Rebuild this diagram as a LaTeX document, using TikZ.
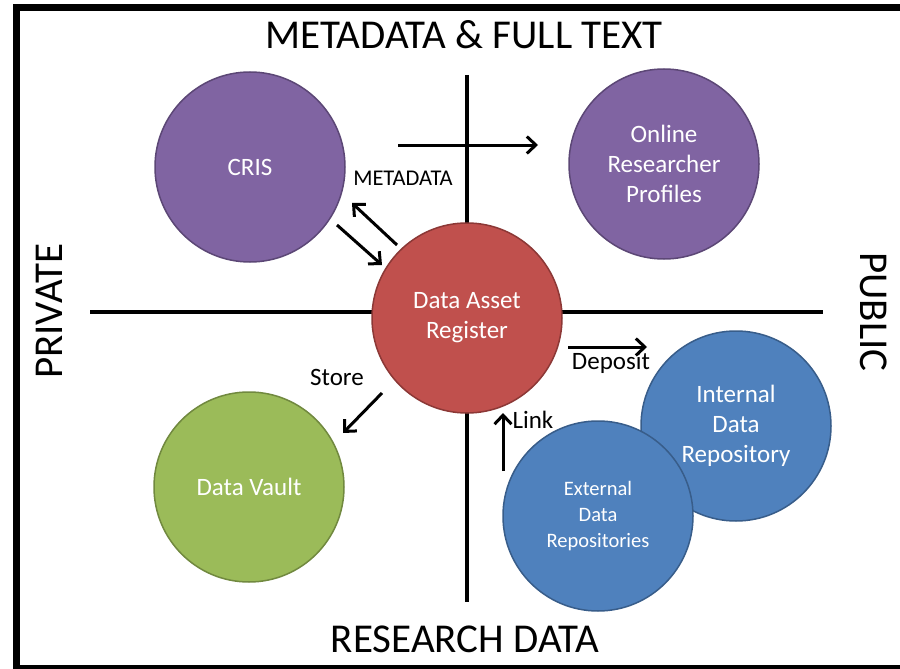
\documentclass[tikz,border=0pt]{standalone}
\usepackage{fontspec}
\setmainfont{Carlito}
\usetikzlibrary{arrows.meta}
\definecolor{cpurple}{HTML}{8064A2}
\definecolor{cpurpleD}{HTML}{5C4776}
\definecolor{cred}{HTML}{C0504D}
\definecolor{credD}{HTML}{8C3836}
\definecolor{cgreen}{HTML}{9BBB59}
\definecolor{cgreenD}{HTML}{71893F}
\definecolor{cblue}{HTML}{4F81BD}
\definecolor{cblueD}{HTML}{385D8A}
\tikzset{
  bubble/.style={circle, minimum size=190pt, inner sep=0pt, align=center, line width=1.5pt, text=white, font=\fontsize{25}{30}\selectfont},
  axis/.style={line width=3.3pt, black},
  flow/.style={line width=3pt, black, -{Straight Barb[length=9pt,width=17pt,line width=3pt]}},
  bigtitle/.style={font=\fontsize{41}{44}\selectfont, inner sep=0pt},
  smalllabel/.style={font=\fontsize{25}{28}\selectfont, inner sep=0pt},
}
\begin{document}
\begin{tikzpicture}[x=1pt,y=-1pt]
\useasboundingbox (0,0) rectangle (900,669);
\fill[white] (0,0) rectangle (900,669);
% frame
\fill[black] (13,4) rectangle (900,11);
\fill[black] (13,4) rectangle (20,669);
\fill[black] (13,665) rectangle (900,669);
% axes
\coordinate (vtop) at (467,75);
\coordinate (vbot) at (467,602);
\coordinate (hleft) at (90,312);
\coordinate (hright) at (823,312);
\draw[axis] (vtop) -- (vbot);
\draw[axis] (hleft) -- (hright);
% titles
\node[bigtitle, anchor=base] (ttop) at (464,49) {METADATA \& FULL TEXT};
\node[bigtitle, anchor=base] (tbot) at (465,652) {RESEARCH DATA};
\node[bigtitle, rotate=90, anchor=base] (tleft) at (62,311) {PRIVATE};
\node[bigtitle, rotate=-90, anchor=base] (tright) at (860,312) {PUBLIC};
% bubbles
\node[bubble, fill=cpurple, draw=cpurpleD] (cris) at (250,167) {CRIS};
\node[bubble, fill=cpurple, draw=cpurpleD] (orp) at (664,164) {Online\\Researcher\\Profiles};
\node[bubble, fill=cred, draw=credD] (dar) at (467,318) {Data Asset\\Register};
\node[bubble, fill=cgreen, draw=cgreenD] (vault) at (249,487) {Data Vault};
\node[bubble, fill=cblue, draw=cblueD] (idr) at (736,426) {Internal\\Data\\Repository};
\node[bubble, fill=cblue, draw=cblueD, font=\fontsize{20.5}{26}\selectfont] (edr) at (598,516) {External\\Data\\Repositories};
% labels
\node[smalllabel, font=\fontsize{22.5}{26}\selectfont] (lmeta) at (403,178) {METADATA};
\node[smalllabel] (lstore) at (337,377) {Store};
\node[smalllabel] (ldep) at (611,363) {Deposit};
\node[smalllabel] (llink) at (533,420) {Link};
% arrow ends
\coordinate (a1s) at (398,145); \coordinate (a1e) at (538,145);
\coordinate (a2s) at (397,245); \coordinate (a2e) at (352,203);
\coordinate (a3s) at (337,225); \coordinate (a3e) at (382,265);
\coordinate (a4s) at (382,393); \coordinate (a4e) at (343,433);
\coordinate (a5s) at (568,347); \coordinate (a5e) at (647,347);
\coordinate (a6s) at (503,471); \coordinate (a6e) at (503,413);
\draw[flow] (a1s) -- (a1e);
\draw[flow] (a2s) -- (a2e);
\draw[flow] (a3s) -- (a3e);
\draw[flow] (a4s) -- (a4e);
\draw[flow] (a5s) -- (a5e);
\draw[flow] (a6s) -- (a6e);
\end{tikzpicture}
\end{document}
